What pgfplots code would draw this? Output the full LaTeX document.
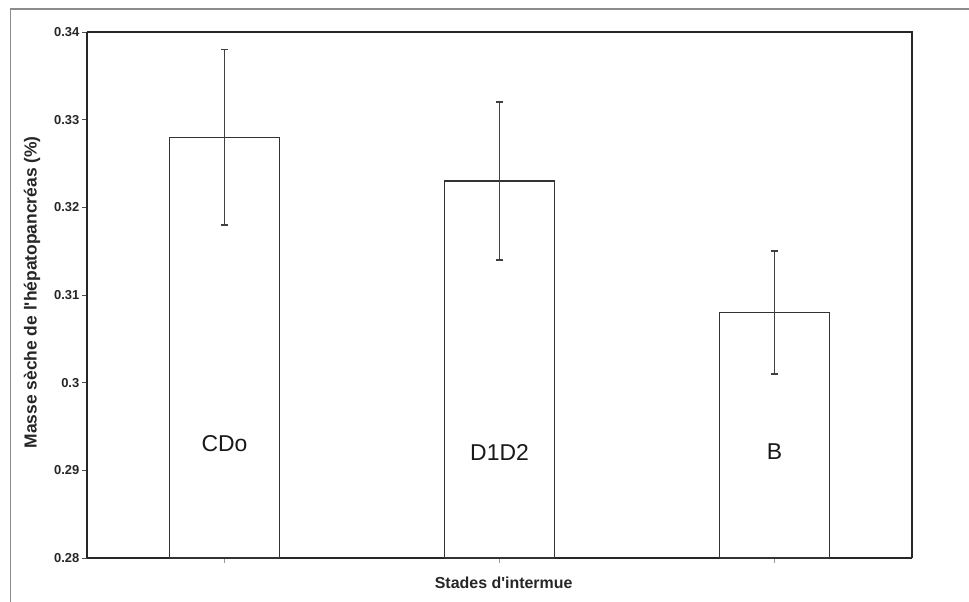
\documentclass[border=0pt]{standalone}
\usepackage{pgfplots}
\pgfplotsset{compat=1.18}
\usepackage{fontspec}
\setmainfont{Liberation Sans}
\begin{document}
\begin{tikzpicture}[x=1bp,y=1bp]
\useasboundingbox (0,0) rectangle (969,602);
\draw[black!45, line width=1.3bp] (10.5,0) -- (10.5,593) -- (969,593);
\begin{axis}[
  at={(87bp,44bp)}, anchor=south west,
  scale only axis, width=825bp, height=526bp,
  xmin=-0.5, xmax=2.5, ymin=0.28, ymax=0.34,
  ytick={0.28,0.29,0.30,0.31,0.32,0.33,0.34},
  yticklabels={0.28,0.29,0.3,0.31,0.32,0.33,0.34},
  xtick={0,1,2}, xticklabels={},
  tick align=outside, major tick length=5bp,
  xtick style={black!40, line width=0.6bp},
  ytick style={black!70, line width=0.8bp},
  axis line style={black!85, line width=1.4bp},
  axis x line*=bottom, axis y line*=left,
  /pgf/number format/assume math mode=true,
  yticklabel style={font=\fontsize{13}{15}\selectfont\bfseries, text=black!85, inner sep=2.5bp},
  xlabel={Stades d\textquotesingle intermue},
  ylabel={Masse sèche de l\textquotesingle hépatopancréas (\%)},
  xlabel style={font=\fontsize{16}{18}\selectfont\bfseries, text=black!85, at={(rel axis cs:0.505,-0.0475)}, anchor=center},
  ylabel style={font=\fontsize{17.5}{20}\selectfont\bfseries, text=black!85, at={(rel axis cs:-0.0667,0.505)}, anchor=center},
  ybar, bar width=0.4,
  clip=false,
]
\addplot[draw=black!80, fill=white, line width=1.2bp,
  error bars/.cd, y dir=both, y explicit,
  error bar style={black!75, line width=1.1bp},
  error mark options={rotate=90, black!75, line width=1.4bp, mark size=3.5bp}]
  coordinates {(0,0.328) +- (0,0.010) (1,0.323) +- (0,0.009) (2,0.308) +- (0,0.007)};
\draw[black!85, line width=1.4bp] (rel axis cs:0,1) -- (rel axis cs:1,1) -- (rel axis cs:1,0);
\node[font=\fontsize{23}{26}\selectfont, text=black!90] at (axis cs:0,0.2931) {CDo};
\node[font=\fontsize{23}{26}\selectfont, text=black!90] at (axis cs:1,0.2920) {D1D2};
\node[font=\fontsize{23}{26}\selectfont, text=black!90] at (axis cs:2,0.2921) {B};
\end{axis}
\end{tikzpicture}
\end{document}
